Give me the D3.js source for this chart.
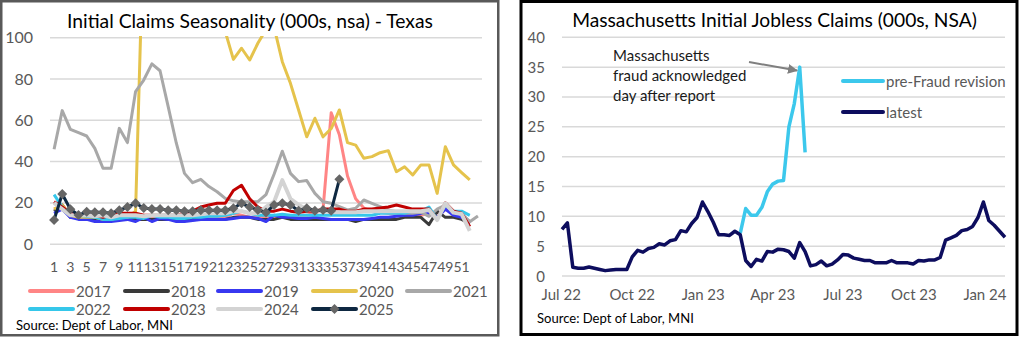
<!DOCTYPE html>
<html><head><meta charset="utf-8">
<script src="https://cdn.jsdelivr.net/npm/d3@7"></script>
<style>
body{margin:0;background:#fff}
svg{display:block}
text{font-family:Lato,"Open Sans",sans-serif}
</style>
</head><body>
<svg id="c" width="1021" height="337"></svg>
<script>
// ---------- LEFT CHART DATA (Texas, 000s nsa) ----------
const weeks = d3.range(1, 54);
const weekLabels = d3.range(1, 52, 2);
const leftYTicks = [0, 20, 40, 60, 80, 100];
const years = ["2017","2018","2019","2020","2021","2022","2023","2024","2025"];
const y2017 = [17,19,14,14,13,13,13,12,13,14, 13,13,13,13,13,12,13,13,13,13, 13,13,15,14,13,13,13,13,14,13, 14,14,15,17,63.7,53,33,22,17.5,16, 15.5,15,15,14,14,14,15,13,17,15, 14,11];
const y2018 = [16,19,13,13,13,12,12,12,12,12, 12,12,12,12,12,12,12,12,12,12, 12,12,13,13,13,12,12,12,13,12, 12,12,12,12,12,12,12,11,12,12, 12,12,12,13,13,13,9.5,16,13,13, 12,10];
const y2019 = [15,17,13,12,12,11,11,11,11.5,12, 11,13,11,12.5,12,11,11,11.5,12,12, 12,12,12.5,13,13,12.5,11,14,13,13, 12.5,12.5,13,12.5,12,12,12,12,12,12.5, 13,13,13.5,14,14,15,15,13,17,14, 13,10];
const y2020 = [17,19,14,13,13,13,12,12,13,13, 16,156,276,314,274,254,210,180,150,130, 115,103,89.5,94.9,89.2,97.3,104,105,88.4,77.9, 65,52,61,52,56,65,49.2,48,41.6,42.4, 44.3,45.3,35.1,37.5,33.5,38.4,38.4,24.6,47.2,38.4, 34.7,31.1];
const y2021 = [46,64.7,55.6,54,52.4,46.4,36.8,36.8,56.1,49.2, 73.9,79.5,87.3,84,66.6,48.9,34.3,29.8,31.4,27.9, 25.4,22.2,21,20.5,20.6,20.6,24,34,45,34.3, 30.3,30.8,24.6,20.6,19.8,18.2,16.6,17.4,21.4,19.8, 18.2,16.6,15.7,15,15,15.5,13.5,17,19,16, 15,10.9,13.7];
const y2022 = [24,18,14,14,13.5,13,12,12,12.5,13, 13,12.5,14,13,13,12.5,12.5,13,13,13.5, 13.5,14,15,16,15,14,14,14,14.5,14, 14,14,14,14,14,14,14,14,14,14, 15,15,15,15,16,16,18,12,19,16, 16,14];
const y2023 = [20.6,18,15,14,14,14,13,14,15,15, 15,14,14,14,14,14,15,16,18,19, 19.8,19.8,26,28.5,22,18,16,16,17,16, 15.5,16,16,17,17,17,16,16,17,17, 17.5,18,19,18,17,17,17,12,20,16, 15,8.5];
const y2024 = [20,17,14,14,14,13.5,14,13,14,14, 14,13.5,14,14,14,14,14,14,14.5,15, 15,15,16,16,15,15,18,20.6,31,22, 19,17,16.5,16,15.5,15.5,15.5,15.5,16,16, 16,16,16,16,16,16,16.6,11.7,19.8,15.3, 14.6,6.5];
const y2025 = [11.7,24.3,16.9,14.1,15.7,15.5,15.5,15,16.5,18, 19.8,17.5,17,17,16.5,16.5,16,16,16.5,16.5, 16.5,16.5,17.4,19.8,18,16.6,15.3,19,19.8,19, 16.2,17.4,16.2,16.6,16.2,31.4];
const leftSeries = [y2017,y2018,y2019,y2020,y2021,y2022,y2023,y2024,y2025];
const leftColors = ["#ff8585","#3a3a3a","#3838f0","#e5c34c","#a8a8a8","#35c7ea","#c00000","#d3d3d3","#0e2841"];
const leftWidths = [3,3,3,3,3,3,3,4,3];

// ---------- RIGHT CHART DATA (Massachusetts, 000s NSA) ----------
const maStart = new Date(2022, 6, 2);
const maEnd = new Date(2024, 0, 27);
const maLatest = [7.8,8.9,1.45,1.3,1.3,1.5,1.3,1.1,0.9,1.0, 1.1,1.1,1.1,3.2,4.3,4.0,4.6,4.8,5.4,5.2, 5.9,6.1,7.6,7.4,8.8,9.8,12.4,10.8,9.0,6.9, 6.9,6.8,7.5,6.9,2.6,1.6,2.8,2.5,4.1,4.0, 4.5,4.4,4.1,3.0,5.6,4.1,1.7,1.9,2.5,1.7, 2.0,2.7,3.6,3.5,3.0,2.8,2.6,2.6,2.2,2.2, 2.2,2.6,2.2,2.2,2.2,2.0,2.6,2.5,2.7,2.7, 3.1,6.0,6.4,6.8,7.6,7.8,8.3,9.8,12.4,9.3, 8.5,7.5,6.5];
const maPreFraud = [null,null,null,null,null,null,null,null,null,null, null,null,null,null,null,null,null,null,null,null, null,null,null,null,null,null,null,null,null,null, null,null,null,7.2,11.3,10.2,10.2,11.5,14.1,15.4, 15.9,16.0,25.0,28.9,35.0,20.7];
const rightYTicks = [0,5,10,15,20,25,30,35,40];
const rightXTicks = [[2022,6,"Jul 22"],[2022,9,"Oct 22"],[2023,0,"Jan 23"],[2023,3,"Apr 23"],[2023,6,"Jul 23"],[2023,9,"Oct 23"],[2024,0,"Jan 24"]];

const svg = d3.select("#c");
const grey = "#595959";
function fit(sel, w){ const l = sel.node().getComputedTextLength(); sel.attr("font-size", parseFloat(sel.attr("font-size")) * w / l); }

// ---------- LEFT PANEL ----------
svg.append("rect").attr("x",1.25).attr("y",1.25).attr("width",497).attr("height",334).attr("fill","#fff").attr("stroke","#595959").attr("stroke-width",2.5);

const xL = d3.scaleBand().domain(weeks).range([50,482]).padding(0);
const yL = d3.scaleLinear().domain([0,100]).range([244.2,37.7]);
const cx = w => xL(w) + xL.bandwidth()/2;

const gL = svg.append("g");
gL.selectAll("line.grid").data(leftYTicks).join("line")
  .attr("x1",50).attr("x2",482).attr("y1",d=>yL(d)).attr("y2",d=>yL(d))
  .attr("stroke","#d9d9d9").attr("stroke-width",1.5);
gL.selectAll("text.yt").data(leftYTicks).join("text")
  .attr("x",33).attr("y",d=>yL(d)+5.5).attr("text-anchor","end")
  .attr("font-size",16).attr("fill",grey).text(d=>d);
gL.selectAll("text.xt").data(weekLabels).join("text")
  .attr("x",d=>cx(d)).attr("y",272).attr("text-anchor","middle")
  .attr("font-size",14).attr("fill",grey).text(d=>d);

svg.append("clipPath").attr("id","clipL").append("rect").attr("x",48).attr("y",36).attr("width",436).attr("height",212);
const plotL = svg.append("g").attr("clip-path","url(#clipL)");
const lineL = d3.line().x((d,i)=>cx(weeks[i])).y(d=>yL(d));
leftSeries.forEach((s,k)=>{
  plotL.append("path").attr("d",lineL(s)).attr("fill","none")
    .attr("stroke",leftColors[k]).attr("stroke-width",leftWidths[k]).attr("stroke-linejoin","round");
});
const diamond = d3.symbol().type(d3.symbolSquare).size(50);
plotL.selectAll("path.mk").data(y2025).join("path")
  .attr("transform",(d,i)=>`translate(${cx(weeks[i])},${yL(d)}) rotate(45)`)
  .attr("d",diamond).attr("fill","#666666");

svg.append("text").attr("x",250).attr("y",28).attr("text-anchor","middle").attr("font-size",18.5).attr("fill","#000")
  .text("Initial Claims Seasonality (000s, nsa) - Texas").call(fit,366);

// legend
const legX = [30,125,218,313,407];
years.forEach((yr,k)=>{
  const row = k<5?0:1, col = k<5?k:k-5;
  const x0 = legX[col], yy = row===0?291:309;
  svg.append("line").attr("x1",x0).attr("x2",x0+43).attr("y1",yy).attr("y2",yy)
    .attr("stroke",leftColors[k]).attr("stroke-width",4).attr("stroke-linecap","round");
  if(yr==="2025") svg.append("path").attr("transform",`translate(${x0+21.5},${yy}) rotate(45)`).attr("d",diamond).attr("fill","#666666");
  svg.append("text").attr("x",x0+46).attr("y",yy+5.5).attr("font-size",15).attr("fill",grey).text(yr);
});
svg.append("text").attr("x",16).attr("y",330).attr("font-size",13.5).attr("fill","#000")
  .text("Source: Dept of Labor, MNI").call(fit,157);

// ---------- RIGHT PANEL ----------
svg.append("rect").attr("x",521).attr("y",1.5).attr("width",496).attr("height",333).attr("fill","#fff").attr("stroke","#000").attr("stroke-width",3);

const xR = d3.scaleTime().domain([maStart, maEnd]).range([562,1005]);
const yR = d3.scaleLinear().domain([0,40]).range([276,37.3]);
const maDates = d3.timeSaturday.range(maStart, d3.timeDay.offset(maEnd,1));

const gR = svg.append("g");
gR.selectAll("line.grid").data(rightYTicks).join("line")
  .attr("x1",562).attr("x2",1005).attr("y1",d=>yR(d)).attr("y2",d=>yR(d))
  .attr("stroke","#d9d9d9").attr("stroke-width",1.5);
gR.selectAll("text.yt").data(rightYTicks).join("text")
  .attr("x",545).attr("y",d=>yR(d)+5.5).attr("text-anchor","end")
  .attr("font-size",15).attr("fill",grey).text(d=>d);
gR.selectAll("text.xt").data(rightXTicks).join("text")
  .attr("x",d=>xR(new Date(d[0],d[1],1))).attr("y",300).attr("text-anchor","middle")
  .attr("font-size",15).attr("fill",grey).text(d=>d[2]);

const lineR = d3.line().defined(d=>d!=null).x((d,i)=>xR(maDates[i])).y(d=>yR(d));
svg.append("path").attr("d",lineR(maPreFraud)).attr("fill","none").attr("stroke","#3cc8ec").attr("stroke-width",3.5).attr("stroke-linejoin","round");
svg.append("path").attr("d",lineR(maLatest)).attr("fill","none").attr("stroke","#0d0d5e").attr("stroke-width",3.5).attr("stroke-linejoin","round");

svg.append("text").attr("x",774.5).attr("y",27).attr("text-anchor","middle").attr("font-size",16.5).attr("fill","#000")
  .text("Massachusetts Initial Jobless Claims (000s, NSA)").call(fit,405);

// annotation
const ann = ["Massachusetts","fraud acknowledged","day after report"];
ann.forEach((t,i)=>{
  svg.append("text").attr("x",613).attr("y",61+i*20).attr("font-size",15).attr("fill","#1a1a1a").text(t);
});
svg.append("defs").append("marker").attr("id","arr").attr("viewBox","0 0 10 10").attr("refX",9).attr("refY",5)
  .attr("markerWidth",5).attr("markerHeight",5).attr("orient","auto")
  .append("path").attr("d","M0,0L10,5L0,10z").attr("fill","#7f7f7f");
svg.append("line").attr("x1",749).attr("y1",62).attr("x2",797).attr("y2",70.5)
  .attr("stroke","#7f7f7f").attr("stroke-width",2).attr("marker-end","url(#arr)");

// right legend
const rLeg = [["pre-Fraud revision","#3cc8ec",81],["latest","#0d0d5e",112]];
rLeg.forEach(d=>{
  svg.append("line").attr("x1",843).attr("x2",883).attr("y1",d[2]).attr("y2",d[2]).attr("stroke",d[1]).attr("stroke-width",4).attr("stroke-linecap","round");
  svg.append("text").attr("x",886).attr("y",d[2]+5.5).attr("font-size",15).attr("fill",grey).text(d[0]);
});
svg.append("text").attr("x",537).attr("y",323).attr("font-size",13.5).attr("fill","#000")
  .text("Source: Dept of Labor, MNI").call(fit,157);
</script>
</body></html>
